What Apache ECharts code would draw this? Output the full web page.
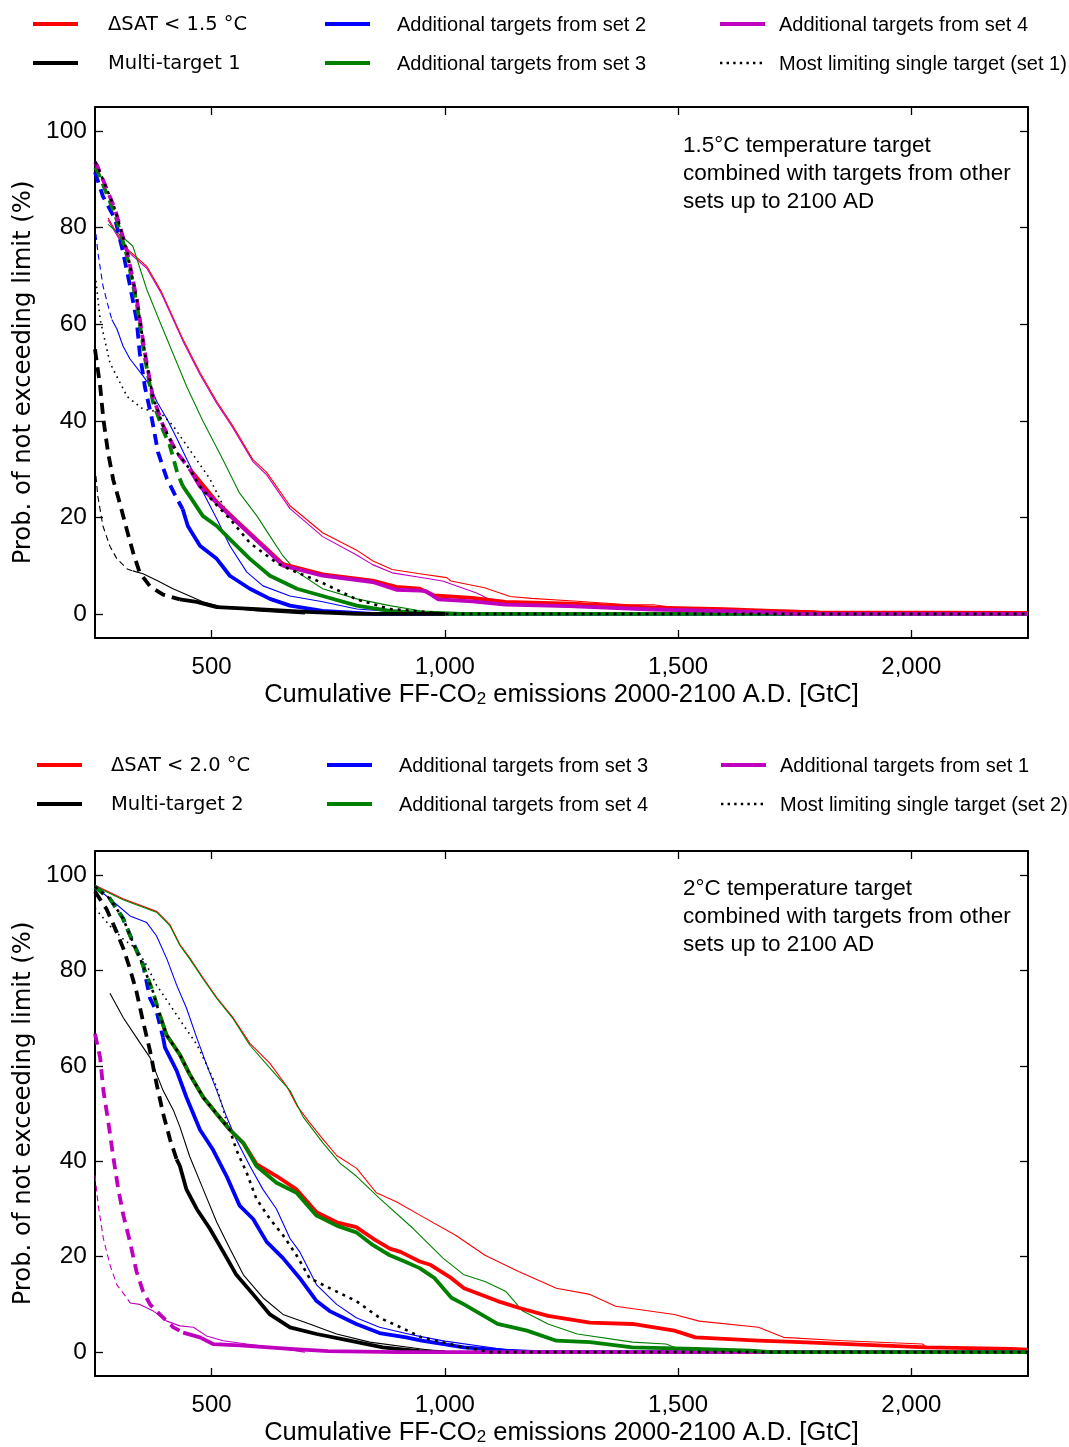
<!DOCTYPE html>
<html><head><meta charset="utf-8">
<script src="https://cdn.jsdelivr.net/npm/echarts@6/dist/echarts.min.js"></script>
<style>html,body{margin:0;padding:0;background:#fff}#c{width:1069px;height:1447px}</style>
</head><body><div id="c"></div><script>
// ---------- tick labels / legend text ----------
const xTicks = [500, 1000, 1500, 2000];
const yTicks = [0, 20, 40, 60, 80, 100];
const legTop = ['ΔSAT < 1.5 °C','Multi-target 1','Additional targets from set 2','Additional targets from set 3','Additional targets from set 4','Most limiting single target (set 1)'];
const legBot = ['ΔSAT < 2.0 °C','Multi-target 2','Additional targets from set 3','Additional targets from set 4','Additional targets from set 1','Most limiting single target (set 2)'];
const noteTop = '1.5°C temperature target\ncombined with targets from other\nsets up to 2100 AD';
const noteBot = '2°C temperature target\ncombined with targets from other\nsets up to 2100 AD';

// ---------- top panel (1.5 °C) : [emissions GtC, probability %] ----------
const t_red_thin = [[278,82],[314,76],[361,72],[393,66.6],[438,57],[475,50],[511,44],[545,39],[588,32],[618,29.3],[668,22.4],[738,16.8],[811,13.2],[845,11],[887,9.2],[946,8.3],[1004,7.5],[1013,6.8],[1085,5.4],[1140,3.6],[1185,3.2],[1284,2.6],[1393,1.9],[1447,1.9],[1501,1.2],[1627,0.9],[1762,0.7],[1853,0.2],[2250,0.1]];
const t_mag_thin = [[278,81.6],[314,75.6],[361,71.6],[393,66.2],[438,56.6],[475,49.6],[511,43.6],[545,38.6],[588,31.6],[618,28.8],[668,21.8],[738,16],[811,12.2],[845,10.2],[887,8.5],[946,7.6],[995,6.8],[1068,4.3],[1104,2.6],[1221,1.6],[1400,1],[1600,0.5],[1800,0.2],[2250,0.1]];
const t_grn_thin = [[278,80.7],[331,76.2],[361,67.2],[389,60.5],[417,54],[447,47],[481,40],[524,32],[560,25],[597,20.3],[625,16.1],[653,12],[683,8.7],[738,5.2],[811,3.1],[882,1.7],[950,0.6],[1050,0.2],[1200,0]];
const t_blu_thin_dash = [[252,78.7],[256,75],[267,68],[278,63.8],[286,61]];
const t_blu_thin = [[286,61],[297,59],[310,55.5],[325,52.8],[353,49.3],[368,47.2],[383,43.9],[404,40.4],[426,36.2],[447,32],[481,25.3],[511,19.7],[539,14.1],[575,8.7],[610,5.8],[668,3.7],[738,2.5],[811,1],[900,0.4],[1000,0]];
const t_blk_thin_dash = [[250,30.6],[256,24.4],[267,18.2],[282,14],[297,11.4],[319,9.3],[331,8.9]];
const t_blk_thin = [[331,8.9],[353,8.3],[383,6.9],[417,5.2],[453,3.7],[481,2.5],[524,1.4],[597,0.6],[700,0]];
const t_lim_thin = [[252,69],[261,61],[282,52],[319,45],[353,42.4],[389,41.8],[417,39],[453,34],[496,28],[539,19.7]];
const t_red_thick = [[453,30],[511,23.2],[554,19.2],[610,14.2],[653,10.3],[738,8.2],[845,6.9],[896,5.6],[946,5.2],[977,3.8],[1059,3.3],[1130,2.5],[1270,2.1],[1450,1.3],[1600,1],[1700,0.6],[1800,0.3],[2250,0.2]];
const t_blu_thick_dash = [[250,91.5],[267,86.5],[293,81.8],[310,75],[325,68],[339,61],[346,54],[357,47],[372,40.4],[385,33.5],[404,28],[426,23.8],[438,21.7]];
const t_blu_thick = [[438,21.7],[449,18.2],[475,14.1],[511,11.4],[539,7.9],[582,5.2],[625,3.1],[668,1.7],[738,0.6],[845,0],[2250,0]];
const t_grn_thick_dash = [[250,92.5],[255,91.8],[293,82.8],[319,74],[340,64],[357,53],[374,44],[396,38],[410,35],[426,29.4],[438,26.5]];
const t_grn_thick = [[438,26.5],[453,24.4],[481,20.3],[511,18.2],[539,15.5],[582,11.4],[625,7.9],[683,5.2],[738,3.7],[811,1.7],[882,0.6],[950,0.2],[1000,0],[2250,0]];
const t_blk_thick_dash = [[250,54.8],[261,47.2],[268,40.3],[278,33.4],[289,27.8],[303,23],[318,17.5],[332,12.6],[346,8.5],[368,5.7],[396,4],[432,3]];
const t_blk_thick = [[432,3],[468,2.5],[511,1.4],[597,1],[704,0.4],[811,0],[1000,0]];
const t_mag_thick_dash = [[250,93.6],[255,92.8],[293,83.8],[319,75],[340,65],[357,54],[374,45],[396,39],[425,33.5],[453,30]];
const t_mag_thick = [[453,30],[475,26.4],[511,23],[554,19],[610,14],[653,10],[738,7.9],[845,6.6],[896,5],[946,4.8],[959,4.7],[986,3],[1059,2.6],[1130,1.9],[1266,1.6],[1447,0.9],[1672,0.4],[1750,0],[2250,0]];
const t_lim_thick = [[250,93.6],[255,92.8],[293,83.8],[319,75],[340,65],[357,54],[374,45],[396,39],[425,33.5],[453,30],[475,26.4],[511,22.5],[539,19.7],[582,14.7],[640,10.5],[668,9.2],[738,6.4],[811,3],[882,1],[946,0.5],[1000,0],[2250,0]];

// ---------- bottom panel (2 °C) ----------
const b_red_thin = [[250,97.8],[310,95],[383,92.3],[411,89.5],[432,85.4],[453,82.6],[481,78.5],[511,74.3],[545,70.2],[582,64.7],[625,60.5],[661,55.7],[683,51.6],[710,48.1],[738,44.7],[768,41.2],[811,38.5],[853,33.4],[896,31.5],[950,28.5],[1023,24.5],[1086,20.3],[1158,16.9],[1239,13.4],[1311,12.1],[1366,9.6],[1492,7.9],[1545,6.5],[1672,5.2],[1726,3.1],[1853,2.4],[2024,1.7],[2033,1],[2214,0.7],[2250,0.5]];
const b_grn_thin = [[250,97.6],[310,94.8],[383,92.1],[411,89.3],[432,85.2],[453,82.4],[481,78.3],[511,74.1],[545,70],[582,64.3],[625,59.5],[668,54.8],[696,49.3],[739,43.8],[775,39.6],[810,36.9],[860,32.2],[932,25.9],[996,19.7],[1041,16.2],[1086,14.8],[1131,12.7],[1167,8.6],[1221,5.9],[1284,3.8],[1402,2.1],[1474,1.7],[1492,1],[1627,0.3],[1700,0]];
const b_blu_thin = [[250,97.5],[282,95],[325,91.4],[361,90],[382,87.2],[404,82.4],[425,76.9],[446,72.1],[468,65.9],[489,60.3],[511,54.8],[532,49.3],[553,44.5],[582,39],[610,34.1],[639,30],[668,23.8],[689,21],[725,14.1],[768,10],[810,7.2],[860,5.2],[917,3.9],[946,3.3],[1000,2.3],[1131,0.5],[1200,0]];
const b_blk_thin = [[282,75.2],[311,70],[339,65.9],[368,61.7],[396,54.8],[418,50.7],[432,47.2],[453,41],[482,34.1],[511,27.2],[539,21.7],[568,16.2],[610,11.4],[653,7.9],[710,5.9],[768,3.8],[839,2.1],[946,0.7],[1000,0]];
const b_mag_thin_dash = [[250,37],[257,30.7],[268,23.8],[282,18.3],[297,14.1],[318,11.4],[325,10.3]];
const b_mag_thin = [[325,10.3],[346,10],[375,8.6],[404,6.5],[432,5.5],[461,5.2],[489,3.4],[525,2.4],[575,1.7],[632,1],[700,0]];
const b_lim_thin = [[250,93],[282,89.3],[311,86.5],[339,84.5],[361,81],[382,76.9],[411,72.7],[439,68.6],[468,64.5],[489,60.3],[511,55.5],[525,50.7],[539,45.9]];
const b_red_thick = [[389,70.6],[403,66.5],[432,62.3],[453,58.2],[482,53.4],[511,49.9],[539,46.6],[568,43.8],[596,39.4],[639,36.9],[682,34.1],[725,29.3],[768,27.2],[810,26.2],[846,23.8],[882,21.7],[905,21],[946,19],[969,18.3],[1014,15.5],[1041,13.4],[1113,10.7],[1158,9.3],[1221,7.6],[1311,6.2],[1402,5.9],[1492,4.5],[1537,3.1],[1672,2.4],[1762,2.1],[2033,1],[2214,0.7],[2250,0.5]];
const b_blu_thick_dash = [[250,97.5],[282,95],[310,90.9],[331,86],[353,81.2],[368,74.1],[382,71.4],[389,68.6],[396,65.9]];
const b_blu_thick = [[396,65.9],[400,63.8],[425,59],[446,53.4],[475,46.6],[503,42.4],[532,36.9],[560,30.7],[589,27.9],[618,23.1],[653,19.7],[689,15.5],[725,10.7],[753,8.6],[810,5.9],[860,4],[917,3.1],[950,2.4],[1041,1],[1131,0.3],[1200,0],[2250,0]];
const b_blk_thick_dash = [[250,96.5],[275,92.8],[297,87.9],[311,84.5],[325,80.3],[339,75.5],[353,69.3],[368,63.1],[382,56.2],[396,50],[411,44.5],[425,40.4]];
const b_blk_thick = [[425,40.4],[432,39],[446,34.1],[468,30],[496,25.9],[525,21],[553,16.2],[589,12.1],[625,7.9],[668,5.2],[725,3.8],[796,2.4],[867,1],[946,0.2],[1000,0]];
const b_mag_thick_dash = [[250,66.7],[261,61.7],[268,54.8],[279,47.9],[289,41],[300,34.1],[311,28.6],[325,23.1],[339,16.9],[353,12.7],[368,10],[389,7.9],[418,5.2],[439,4.1]];
const b_mag_thick = [[439,4.1],[475,3.1],[503,1.7],[560,1.4],[668,0.7],[750,0.2],[900,0],[2250,0]];
const b_grn_thick_dash = [[250,97.5],[282,95],[310,90.9],[331,85.9],[353,81],[374,75.6],[389,70.6]];
const b_grn_thick = [[389,70.6],[403,66.5],[432,62.3],[453,58.2],[482,53.4],[511,49.9],[539,46.6],[568,43.8],[596,39],[639,35.5],[682,33.4],[725,28.6],[768,26.5],[810,25.1],[846,22.4],[882,20.3],[914,19],[946,17.6],[978,15.5],[1014,11.4],[1041,10],[1113,5.9],[1176,4.5],[1239,2.4],[1311,2.1],[1402,1],[1537,0.7],[1654,0.3],[1700,0],[2250,0]];
const b_lim_thick = [[250,97.5],[282,95],[310,90.9],[331,85.9],[353,81],[374,75.6],[389,70.6],[403,66.5],[432,62.3],[453,58.2],[482,53.4],[511,49.9],[539,46.6],[553,42.4],[575,37.6],[596,32.1],[625,27.9],[653,24.5],[682,20.3],[710,15.5],[753,13.4],[810,10.7],[860,7.2],[905,5.2],[950,3.1],[1041,1],[1100,0],[2250,0]];

// ---------- styling ----------
const RED='#ff0000', BLU='#0000ff', GRN='#008000', MAG='#bf00bf', BLK='#000000';
const THIN=1.1, THICK=3.8;
const DASH_T=[11,7], DASH_N=[6,4], DOT_N=[1.6,4.2], DOT_T=[3,5];

function L(name, data, p, color, width, type) {
  return {type:'line', name, data, xAxisIndex:p*2, yAxisIndex:p*2, showSymbol:false, symbol:'none',
    silent:true, animation:false, clip:true,
    lineStyle:{color, width, type, cap:'butt', join:'round'}};
}

const series = [
  // top panel
  L(legTop[0], t_red_thin, 0, RED, THIN, 'solid'),
  L(legTop[4], t_mag_thin, 0, MAG, THIN, 'solid'),
  L(legTop[3], t_grn_thin, 0, GRN, THIN, 'solid'),
  L(legTop[2], t_blu_thin_dash, 0, BLU, THIN, DASH_N),
  L(legTop[2], t_blu_thin, 0, BLU, THIN, 'solid'),
  L(legTop[1], t_blk_thin_dash, 0, BLK, THIN, DASH_N),
  L(legTop[1], t_blk_thin, 0, BLK, THIN, 'solid'),
  L(legTop[5], t_lim_thin, 0, BLK, 1.6, DOT_N),
  L(legTop[0], t_red_thick, 0, RED, THICK, 'solid'),
  L(legTop[2], t_blu_thick_dash, 0, BLU, THICK, DASH_T),
  L(legTop[2], t_blu_thick, 0, BLU, THICK, 'solid'),
  L(legTop[3], t_grn_thick_dash, 0, GRN, THICK, DASH_T),
  L(legTop[3], t_grn_thick, 0, GRN, THICK, 'solid'),
  L(legTop[1], t_blk_thick_dash, 0, BLK, THICK, DASH_T),
  L(legTop[1], t_blk_thick, 0, BLK, THICK, 'solid'),
  L(legTop[4], t_mag_thick_dash, 0, MAG, THICK, DASH_T),
  L(legTop[4], t_mag_thick, 0, MAG, THICK, 'solid'),
  L(legTop[5], t_lim_thick, 0, BLK, 2.6, DOT_T),
  // bottom panel
  L(legBot[0], b_red_thin, 1, RED, THIN, 'solid'),
  L(legBot[3], b_grn_thin, 1, GRN, THIN, 'solid'),
  L(legBot[2], b_blu_thin, 1, BLU, THIN, 'solid'),
  L(legBot[1], b_blk_thin, 1, BLK, THIN, 'solid'),
  L(legBot[4], b_mag_thin_dash, 1, MAG, THIN, DASH_N),
  L(legBot[4], b_mag_thin, 1, MAG, THIN, 'solid'),
  L(legBot[5], b_lim_thin, 1, BLK, 1.6, DOT_N),
  L(legBot[0], b_red_thick, 1, RED, THICK, 'solid'),
  L(legBot[2], b_blu_thick_dash, 1, BLU, THICK, DASH_T),
  L(legBot[2], b_blu_thick, 1, BLU, THICK, 'solid'),
  L(legBot[1], b_blk_thick_dash, 1, BLK, THICK, DASH_T),
  L(legBot[1], b_blk_thick, 1, BLK, THICK, 'solid'),
  L(legBot[4], b_mag_thick_dash, 1, MAG, THICK, DASH_T),
  L(legBot[4], b_mag_thick, 1, MAG, THICK, 'solid'),
  L(legBot[3], b_grn_thick_dash, 1, GRN, THICK, DASH_T),
  L(legBot[3], b_grn_thick, 1, GRN, THICK, 'solid'),
  L(legBot[5], b_lim_thick, 1, BLK, 2.6, DOT_T)
];

const FONT='"Liberation Sans", Arial, sans-serif';
const SFONT='"DejaVu Sans", sans-serif';
const xName = 'Cumulative FF-CO{sub|2} emissions 2000-2100 A.D. [GtC]';
const yName = 'Prob. of not exceeding limit (%)';

function xAxes(g) {
  return [
    {type:'value', gridIndex:g, position:'bottom', min:250, max:2250,
      axisLine:{show:true, onZero:false, lineStyle:{color:'#000', width:2}},
      axisTick:{show:true, inside:true, length:8, customValues:xTicks, lineStyle:{color:'#000', width:1.3}},
      axisLabel:{show:true, customValues:xTicks, margin:17, color:'#000', fontSize:24, fontFamily:FONT,
        formatter:v=>Number(v).toLocaleString('en-US')},
      splitLine:{show:false},
      name:xName, nameLocation:'middle', nameGap:43,
      nameTextStyle:{color:'#000', fontSize:25.5, fontFamily:FONT,
        rich:{sub:{fontSize:17, fontFamily:FONT, color:'#000', padding:[10,0,0,0]}}}},
    {type:'value', gridIndex:g, position:'top', min:250, max:2250,
      axisLine:{show:true, onZero:false, lineStyle:{color:'#000', width:2}},
      axisTick:{show:true, inside:true, length:8, customValues:xTicks, lineStyle:{color:'#000', width:1.3}},
      axisLabel:{show:false}, splitLine:{show:false}}
  ];
}
function yAxes(g) {
  return [
    {type:'value', gridIndex:g, position:'left', min:-5, max:105,
      axisLine:{show:true, onZero:false, lineStyle:{color:'#000', width:2}},
      axisTick:{show:true, inside:true, length:8, customValues:yTicks, lineStyle:{color:'#000', width:1.3}},
      axisLabel:{show:true, customValues:yTicks, margin:8, color:'#000', fontSize:24.5, fontFamily:FONT},
      splitLine:{show:false},
      name:yName, nameLocation:'middle', nameGap:58, nameRotate:90,
      nameTextStyle:{color:'#000', fontSize:24.3, fontFamily:SFONT}},
    {type:'value', gridIndex:g, position:'right', min:-5, max:105,
      axisLine:{show:true, onZero:false, lineStyle:{color:'#000', width:2}},
      axisTick:{show:true, inside:true, length:8, customValues:yTicks, lineStyle:{color:'#000', width:1.3}},
      axisLabel:{show:false}, splitLine:{show:false}}
  ];
}

function legendGraphic(labels, cols, rows) {
  const colors = [RED, BLK, BLU, GRN, MAG, BLK];
  const els = [];
  labels.forEach((lab, i) => {
    const c = cols[Math.floor(i/2)], y = rows[i%2];
    const dotted = (i === 5);
    els.push({type:'line', shape:{x1:c.lx, y1:y, x2:c.lx+45, y2:y},
      style:{stroke:colors[i], lineWidth: dotted ? 2.4 : 4, lineDash: dotted ? [2.4,4.2] : null}});
    els.push({type:'text', x:c.tx, y:y + 1, style:{text:lab, fill:'#000',
      fontSize: i < 2 ? 19.5 : 20, fontFamily: i < 2 ? SFONT : FONT, verticalAlign:'middle', align:'left'}});
  });
  return els;
}

const graphic = [].concat(
  legendGraphic(legTop, [{lx:33,tx:108},{lx:325,tx:397},{lx:720,tx:779}], [24,63]),
  legendGraphic(legBot, [{lx:37,tx:111},{lx:327,tx:399},{lx:721,tx:780}], [765,804])
);

const chart = echarts.init(document.getElementById('c'), null, {renderer:'canvas'});
chart.setOption({
  backgroundColor:'#fff',
  animation:false,
  title:[
    {text:noteTop, left:683, top:132, padding:0, textStyle:{fontSize:22.5, fontWeight:'normal', fontFamily:FONT, color:'#000', lineHeight:28}},
    {text:noteBot, left:683, top:875, padding:0, textStyle:{fontSize:22.5, fontWeight:'normal', fontFamily:FONT, color:'#000', lineHeight:28}}
  ],
  grid:[
    {left:95, top:107, width:933, height:531, show:false},
    {left:95, top:851, width:933, height:532, show:false}
  ],
  xAxis:[].concat(xAxes(0), xAxes(1)),
  yAxis:[].concat(yAxes(0), yAxes(1)),
  graphic: graphic,
  series: series
});
</script></body></html>
